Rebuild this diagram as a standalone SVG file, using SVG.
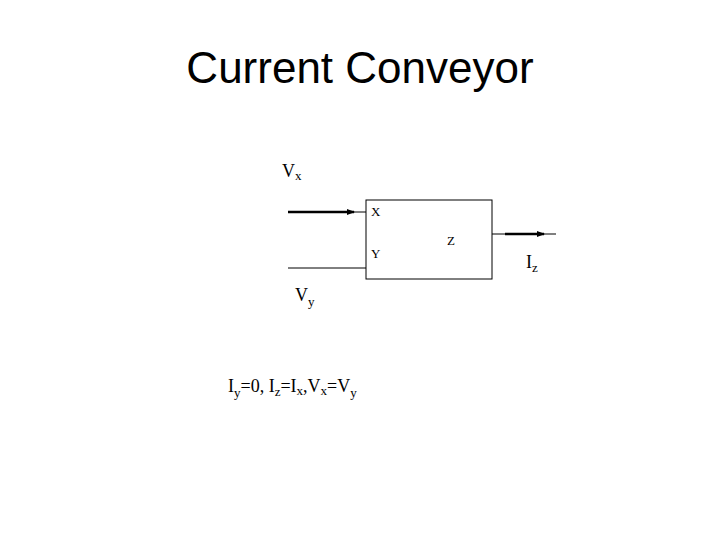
<svg xmlns="http://www.w3.org/2000/svg" width="720" height="540" viewBox="0 0 720 540">
<style>
.t{font-family:"Liberation Serif",serif;font-size:18px;fill:#000}
.s{font-size:13px}
.p{font-family:"Liberation Serif",serif;font-size:13px;fill:#000}
.thin{stroke:#000;stroke-width:1;fill:none}
.thick{stroke:#000;stroke-width:2.5;fill:none}
</style>
<defs>
<marker id="ah" markerWidth="8" markerHeight="6" refX="7" refY="3" orient="auto" markerUnits="userSpaceOnUse">
<path d="M0,0 L8,3 L0,6 Z" fill="#000"/>
</marker>
</defs>
<rect width="720" height="540" fill="#fff"/>
<text x="360" y="83" text-anchor="middle" font-family="'Liberation Sans',Arial,sans-serif" font-size="44">Current Conveyor</text>
<g id="connectors">
<line class="thin" x1="288" y1="212" x2="366" y2="212"/>
<line class="thick" x1="288" y1="212" x2="354" y2="212" marker-end="url(#ah)"/>
<line class="thin" x1="288" y1="268" x2="366" y2="268"/>
<line class="thin" x1="492" y1="234" x2="556" y2="234"/>
<line class="thick" x1="505" y1="234" x2="544" y2="234" marker-end="url(#ah)"/>
</g>
<g id="conveyor">
<rect x="366" y="200" width="126" height="79" fill="#fff" stroke="#000" stroke-width="1"/>
<text class="p" x="371" y="216">X</text>
<text class="p" x="371" y="258">Y</text>
<text class="p" x="447" y="245">Z</text>
</g>
<g id="labels">
<text class="t" x="282" y="177">V<tspan class="s" dy="3">x</tspan></text>
<text class="t" x="295" y="301">V<tspan class="s" dy="5">y</tspan></text>
<text class="t" x="526" y="268">I<tspan class="s" dy="4">z</tspan></text>
<text class="t" x="228" y="392">I<tspan class="s" dy="5">y</tspan><tspan dy="-5">=0, I</tspan><tspan class="s" dy="4">z</tspan><tspan dy="-4">=I</tspan><tspan class="s" dy="3">x</tspan><tspan dy="-3">,V</tspan><tspan class="s" dy="3">x</tspan><tspan dy="-3">=V</tspan><tspan class="s" dy="5">y</tspan></text>
</g>
</svg>
